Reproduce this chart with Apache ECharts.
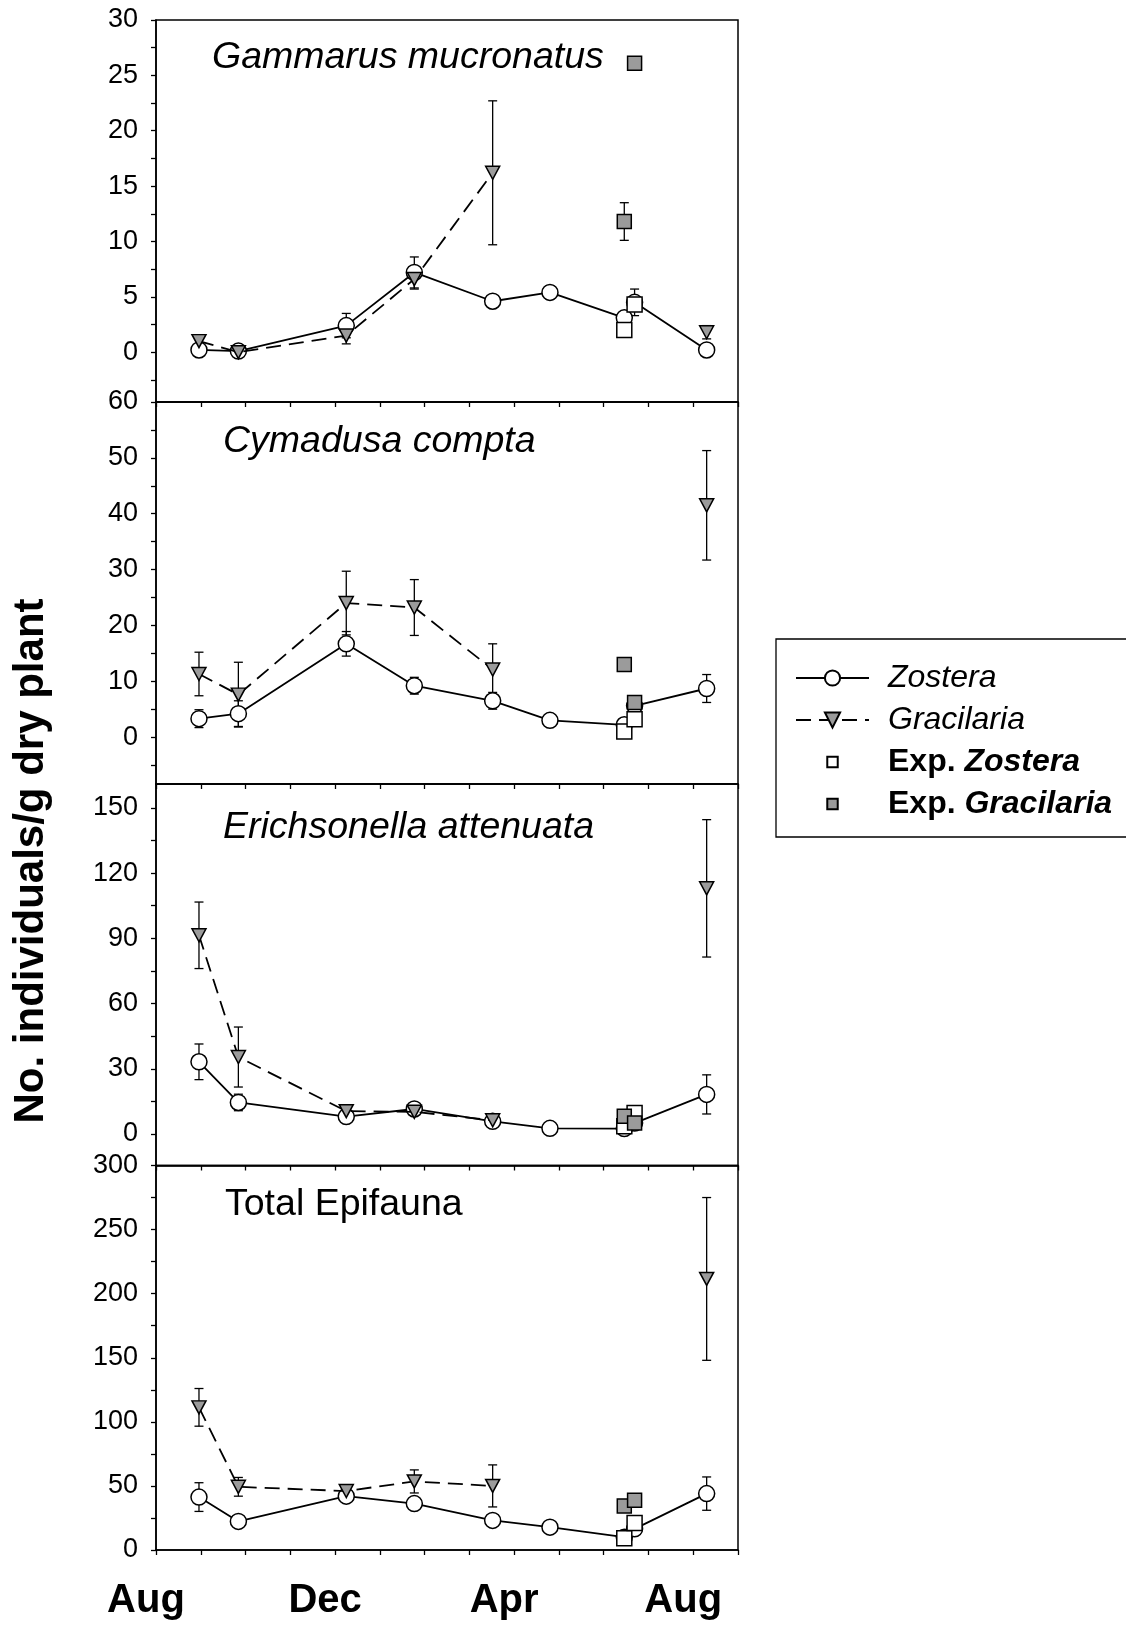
<!DOCTYPE html>
<html>
<head>
<meta charset="utf-8">
<script src="https://cdn.jsdelivr.net/npm/echarts@6/dist/echarts.min.js"></script>
<style>
  html, body { margin: 0; padding: 0; background: #fff; }
  #chart { width: 1126px; height: 1625px; }
</style>
</head>
<body>
<div id="chart"></div>
<script>
// Sampling dates, in months after 1 August of the first year
const sampleMonths = [0.96, 1.84, 4.25, 5.77, 7.52, 8.8, 10.46, 10.69, 12.3];
const expMonths = [10.46, 10.69];
const monthTickValues = [0, 4, 8, 12];
const monthTickLabels = ['Aug', 'Dec', 'Apr', 'Aug'];

// Gammarus mucronatus
const gammarusZostera = [0.2, 0.1, 2.4, 7.2, 4.6, 5.4, 3.1, 4.5, 0.2];
const gammarusZosteraSE = [null, null, 1.1, 1.4, null, 0.6, null, 1.2, null];
const gammarusGracilaria = [1.0, 0.0, 1.5, 6.6, 16.2, null, null, null, 1.8];
const gammarusGracilariaSE = [null, null, 0.75, 0.9, 6.5, null, null, null, 0.6];
const gammarusExpZostera = [2.0, 4.3];
const gammarusExpGracilaria = [11.8, 26.1];
const gammarusExpGracilariaSE = [1.7, null];
const gammarusTicks = [0, 5, 10, 15, 20, 25, 30];

// Cymadusa compta
const cymadusaZostera = [3.3, 4.2, 16.7, 9.2, 6.5, 3.0, 2.2, 5.6, 8.7];
const cymadusaZosteraSE = [1.6, 2.3, 2.2, 1.5, 1.5, null, null, null, 2.5];
const cymadusaGracilaria = [11.3, 7.6, 24.0, 23.2, 12.1, null, null, null, 41.5];
const cymadusaGracilariaSE = [3.9, 5.8, 5.7, 5.0, 4.6, null, null, null, 9.8];
const cymadusaExpZostera = [1.0, 3.2];
const cymadusaExpGracilaria = [13.0, 6.2];
const cymadusaExpGracilariaSE = [null, null];
const cymadusaTicks = [0, 10, 20, 30, 40, 50, 60];

// Erichsonella attenuata
const erichsonellaZostera = [33.2, 14.5, 8.0, 11.5, 5.8, 2.6, 2.5, 5.0, 18.2];
const erichsonellaZosteraSE = [8.2, 3.8, null, null, null, null, null, null, 9.0];
const erichsonellaGracilaria = [91.4, 35.4, 10.5, 10.2, 6.3, null, null, null, 113.0];
const erichsonellaGracilariaSE = [15.3, 13.8, 3.0, null, 2.5, null, null, null, 31.6];
const erichsonellaExpZostera = [3.5, 9.7];
const erichsonellaExpGracilaria = [8.1, 5.1];
const erichsonellaExpGracilariaSE = [null, null];
const erichsonellaTicks = [0, 30, 60, 90, 120, 150];

// Total epifauna
const totalZostera = [41.3, 22.3, 42.0, 36.2, 23.1, 17.8, 10.0, 16.5, 44.0];
const totalZosteraSE = [11.2, null, null, null, null, null, null, null, 13.0];
const totalGracilaria = [111.3, 49.3, 46.0, 53.5, 50.0, null, null, null, 211.5];
const totalGracilariaSE = [14.7, 7.3, 3.0, 9.0, 16.4, null, null, null, 63.5];
const totalExpZostera = [9.2, 21.0];
const totalExpGracilaria = [34.4, 38.8];
const totalExpGracilariaSE = [null, null];
const totalTicks = [0, 50, 100, 150, 200, 250, 300];

const panelTitles = ['Gammarus mucronatus', 'Cymadusa compta', 'Erichsonella attenuata', 'Total Epifauna'];
const yAxisMin = [-4.5, -8.4, -14.5, 0];
const yAxisMax = [30, 60, 161, 300];

const panels = [
  { zos: gammarusZostera, zosSE: gammarusZosteraSE, gra: gammarusGracilaria, graSE: gammarusGracilariaSE,
    expZ: gammarusExpZostera, expG: gammarusExpGracilaria, expGSE: gammarusExpGracilariaSE, ticks: gammarusTicks },
  { zos: cymadusaZostera, zosSE: cymadusaZosteraSE, gra: cymadusaGracilaria, graSE: cymadusaGracilariaSE,
    expZ: cymadusaExpZostera, expG: cymadusaExpGracilaria, expGSE: cymadusaExpGracilariaSE, ticks: cymadusaTicks },
  { zos: erichsonellaZostera, zosSE: erichsonellaZosteraSE, gra: erichsonellaGracilaria, graSE: erichsonellaGracilariaSE,
    expZ: erichsonellaExpZostera, expG: erichsonellaExpGracilaria, expGSE: erichsonellaExpGracilariaSE, ticks: erichsonellaTicks },
  { zos: totalZostera, zosSE: totalZosteraSE, gra: totalGracilaria, graSE: totalGracilariaSE,
    expZ: totalExpZostera, expG: totalExpGracilaria, expGSE: totalExpGracilariaSE, ticks: totalTicks }
];

const FONT = '"Liberation Sans", Arial, Helvetica, sans-serif';
const GRAY = '#9b9b9b';

// Panel frames, stacked with shared edges
const gridBoxes = [
  { top: 20, height: 382 },
  { top: 402, height: 382 },
  { top: 784, height: 381.5 },
  { top: 1165.5, height: 384.5 }
];
const titleAnchors = [[212, 58], [223, 442], [223, 828], [225, 1205]];

function zipXY(xs, ys) {
  return xs.map((x, i) => [x, ys[i]]);
}

function errorRows(xs, ys, se) {
  const rows = [];
  xs.forEach((x, i) => {
    if (ys[i] != null && se[i] != null) rows.push([x, ys[i] - se[i], ys[i] + se[i]]);
  });
  return rows;
}

function renderErrorBar(params, api) {
  const x = api.value(0);
  const hi = api.coord([x, api.value(2)]);
  const lo = api.coord([x, api.value(1)]);
  const cap = 4.5;
  const style = { stroke: '#000', lineWidth: 1.3, fill: null };
  return {
    type: 'group',
    children: [
      { type: 'line', shape: { x1: hi[0], y1: hi[1], x2: lo[0], y2: lo[1] }, style },
      { type: 'line', shape: { x1: hi[0] - cap, y1: hi[1], x2: hi[0] + cap, y2: hi[1] }, style },
      { type: 'line', shape: { x1: lo[0] - cap, y1: lo[1], x2: lo[0] + cap, y2: lo[1] }, style }
    ]
  };
}

const grids = [], xAxes = [], yAxes = [], series = [], graphics = [];

panels.forEach((p, i) => {
  grids.push({
    left: 156, width: 582, top: gridBoxes[i].top, height: gridBoxes[i].height,
    show: true, borderColor: '#000', borderWidth: 1.5, backgroundColor: 'transparent'
  });

  const isBottom = i === panels.length - 1;
  xAxes.push({
    gridIndex: i, type: 'value', min: 0, max: 13, interval: 1,
    axisLine: { show: true, onZero: false, lineStyle: { color: '#000', width: 1.5 } },
    axisTick: { show: true, inside: false, length: 5, lineStyle: { color: '#000', width: 1.3 } },
    axisLabel: isBottom ? {
      show: true, customValues: monthTickValues, margin: 31,
      formatter: v => monthTickLabels[monthTickValues.indexOf(v)] || '',
      fontSize: 40, fontWeight: 'bold', fontFamily: FONT, color: '#000',
      padding: [0, 20, 0, 0]
    } : { show: false },
    splitLine: { show: false }
  });

  const step = p.ticks[1] - p.ticks[0];
  const tickVals = [];
  for (let v = Math.ceil(yAxisMin[i] / (step / 2)) * (step / 2); v <= yAxisMax[i] + 1e-9; v += step / 2) {
    tickVals.push(Math.round(v * 100) / 100);
  }
  yAxes.push({
    gridIndex: i, type: 'value', min: yAxisMin[i], max: yAxisMax[i],
    axisLine: { show: true, onZero: false, lineStyle: { color: '#000', width: 1.5 } },
    axisTick: { show: true, inside: false, length: 5, customValues: tickVals, lineStyle: { color: '#000', width: 1.3 } },
    axisLabel: { show: true, customValues: p.ticks, margin: 18, fontSize: 27, fontFamily: FONT, color: '#000' },
    splitLine: { show: false }
  });

  // error bars sit beneath the markers
  const errs = [].concat(
    errorRows(sampleMonths, p.zos, p.zosSE),
    errorRows(sampleMonths, p.gra, p.graSE),
    errorRows(expMonths, p.expG, p.expGSE)
  );
  series.push({
    type: 'custom', xAxisIndex: i, yAxisIndex: i, renderItem: renderErrorBar,
    data: errs, z: 1, silent: true, animation: false
  });

  series.push({
    name: 'Zostera', type: 'line', xAxisIndex: i, yAxisIndex: i,
    data: zipXY(sampleMonths, p.zos), connectNulls: false,
    symbol: 'circle', symbolSize: 16, showAllSymbol: true,
    lineStyle: { color: '#000', width: 1.8, type: 'solid' },
    itemStyle: { color: '#fff', borderColor: '#000', borderWidth: 1.5 },
    z: 2, animation: false, emphasis: { disabled: true }
  });
  series.push({
    name: 'Gracilaria', type: 'line', xAxisIndex: i, yAxisIndex: i,
    data: zipXY(sampleMonths, p.gra), connectNulls: false,
    symbol: 'triangle', symbolRotate: 180, symbolSize: [14, 13], showAllSymbol: true,
    lineStyle: { color: '#000', width: 1.8, type: [15, 8] },
    itemStyle: { color: GRAY, borderColor: '#000', borderWidth: 1.5 },
    z: 3, animation: false, emphasis: { disabled: true }
  });
  series.push({
    name: 'Exp. Zostera', type: 'scatter', xAxisIndex: i, yAxisIndex: i,
    data: zipXY(expMonths, p.expZ),
    symbol: 'rect', symbolSize: 15,
    itemStyle: { color: '#fff', borderColor: '#000', borderWidth: 1.5, opacity: 1 },
    z: 4, animation: false, emphasis: { disabled: true }
  });
  series.push({
    name: 'Exp. Gracilaria', type: 'scatter', xAxisIndex: i, yAxisIndex: i,
    data: zipXY(expMonths, p.expG),
    symbol: 'rect', symbolSize: 14,
    itemStyle: { color: GRAY, borderColor: '#000', borderWidth: 1.5, opacity: 1 },
    z: 5, animation: false, emphasis: { disabled: true }
  });

  graphics.push({
    type: 'text', x: titleAnchors[i][0], y: titleAnchors[i][1], z: 10,
    style: {
      text: panelTitles[i], textAlign: 'left', textVerticalAlign: 'middle', fill: '#000',
      font: (isBottom ? '' : 'italic ') + '37.5px ' + FONT
    }
  });
});

graphics.push({
  type: 'text', x: 31, y: 861, rotation: Math.PI / 2, z: 10,
  style: {
    text: 'No. individuals/g dry plant', textAlign: 'center', textVerticalAlign: 'middle',
    fill: '#000', font: 'bold 42px ' + FONT
  }
});

// small square inside a larger invisible frame keeps the legend square compact
const squareIcon = 'path://M0,0M20,20M4.5,4.5h11v11h-11z';

const option = {
  backgroundColor: '#fff',
  animation: false,
  grid: grids,
  xAxis: xAxes,
  yAxis: yAxes,
  series: series,
  graphic: graphics,
  legend: {
    orient: 'vertical', left: 776, top: 639,
    padding: [23, 70, 17, 19],
    itemWidth: 73, itemHeight: 19, itemGap: 10,
    borderColor: '#000', borderWidth: 1.3,
    selectedMode: false,
    data: [
      { name: 'Zostera' },
      { name: 'Gracilaria' },
      { name: 'Exp. Zostera', icon: squareIcon },
      { name: 'Exp. Gracilaria', icon: squareIcon }
    ],
    formatter: function (name) {
      if (name.indexOf('Exp. ') === 0) return '{b|Exp. }{bi|' + name.slice(5) + '}';
      return '{i|' + name + '}';
    },
    textStyle: {
      fontSize: 32, fontFamily: FONT, color: '#000', padding: [0, 0, 0, 14],
      rich: {
        i: { fontSize: 32, fontStyle: 'italic', fontFamily: FONT, color: '#000', lineHeight: 30 },
        b: { fontSize: 32, fontWeight: 'bold', fontFamily: FONT, color: '#000', lineHeight: 30 },
        bi: { fontSize: 32, fontWeight: 'bold', fontStyle: 'italic', fontFamily: FONT, color: '#000', lineHeight: 30 }
      }
    }
  }
};

const chart = echarts.init(document.getElementById('chart'), null, { renderer: 'canvas' });
chart.setOption(option);
</script>
</body>
</html>
